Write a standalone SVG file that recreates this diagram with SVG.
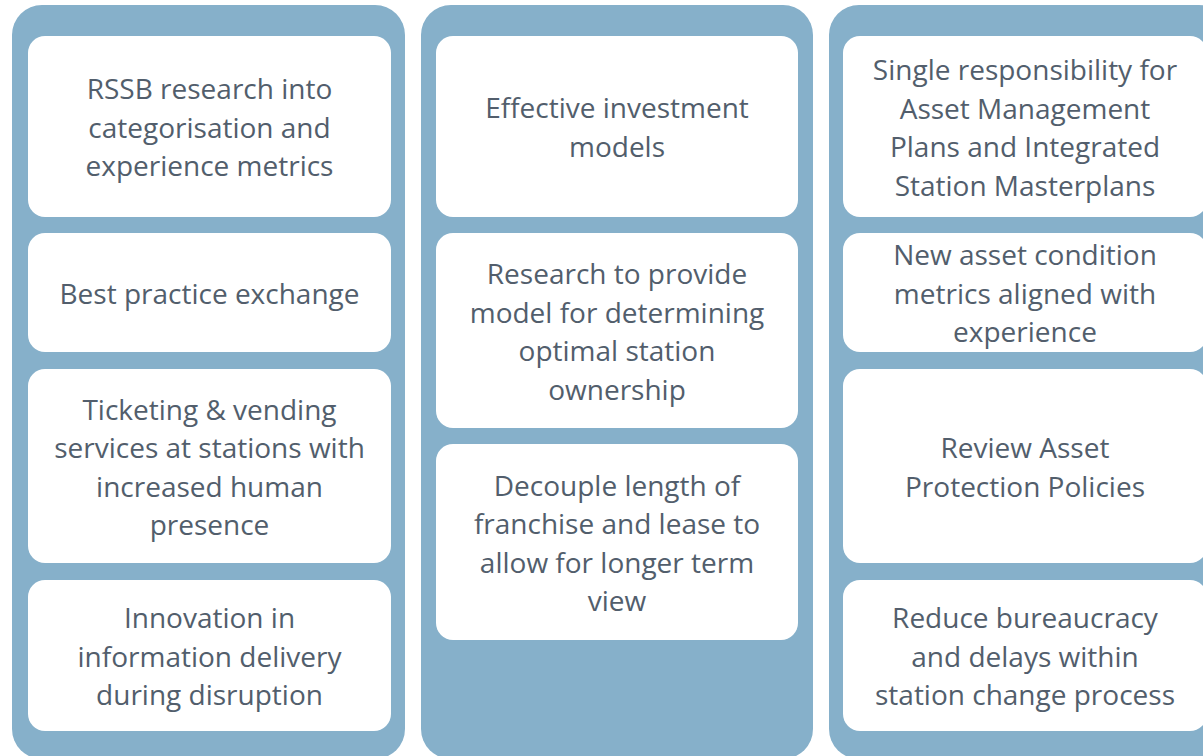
<svg xmlns="http://www.w3.org/2000/svg" width="1203" height="756" viewBox="0 0 1203 756">
<style>
.col{fill:#86B0CA}
.box{fill:#FFFFFF}
.t{font-family:"Open Sans","Liberation Sans",sans-serif;font-size:28px;fill:#525E6C;text-anchor:middle}
</style>
<rect width="1203" height="756" fill="#FFFFFF"/>
<g id="column-1">
<rect class="col" x="12" y="5" width="393" height="754" rx="30"/>
</g>
<g id="column-2">
<rect class="col" x="421" y="5" width="392" height="754" rx="30"/>
</g>
<g id="column-3">
<rect class="col" x="829" y="5" width="400" height="754" rx="30"/>
</g>
<g id="connectors"></g>
<g id="n1">
<rect class="box" x="28" y="36" width="363" height="181" rx="17"/>
<text class="t"><tspan x="209.5" y="99">RSSB research into</tspan><tspan x="209.5" y="137.5">categorisation and</tspan><tspan x="209.5" y="176">experience metrics</tspan></text>
</g>
<g id="n2">
<rect class="box" x="28" y="233" width="363" height="119" rx="17"/>
<text class="t"><tspan x="209.5" y="303.5">Best practice exchange</tspan></text>
</g>
<g id="n3">
<rect class="box" x="28" y="369" width="363" height="194" rx="17"/>
<text class="t"><tspan x="209.5" y="419.5">Ticketing &amp; vending</tspan><tspan x="209.5" y="458">services at stations with</tspan><tspan x="209.5" y="496.5">increased human</tspan><tspan x="209.5" y="535">presence</tspan></text>
</g>
<g id="n4">
<rect class="box" x="28" y="580" width="363" height="151" rx="17"/>
<text class="t"><tspan x="209.5" y="628">Innovation in</tspan><tspan x="209.5" y="666.5">information delivery</tspan><tspan x="209.5" y="705">during disruption</tspan></text>
</g>
<g id="n5">
<rect class="box" x="436" y="36" width="362" height="181" rx="17"/>
<text class="t"><tspan x="617" y="118">Effective investment</tspan><tspan x="617" y="156.5">models</tspan></text>
</g>
<g id="n6">
<rect class="box" x="436" y="233" width="362" height="195" rx="17"/>
<text class="t"><tspan x="617" y="284">Research to provide</tspan><tspan x="617" y="322.5">model for determining</tspan><tspan x="617" y="361">optimal station</tspan><tspan x="617" y="399.5">ownership</tspan></text>
</g>
<g id="n7">
<rect class="box" x="436" y="444" width="362" height="196" rx="17"/>
<text class="t"><tspan x="617" y="495.5">Decouple length of</tspan><tspan x="617" y="534">franchise and lease to</tspan><tspan x="617" y="572.5">allow for longer term</tspan><tspan x="617" y="611">view</tspan></text>
</g>
<g id="n8">
<rect class="box" x="843" y="36" width="364" height="181" rx="17"/>
<text class="t"><tspan x="1025" y="80">Single responsibility for</tspan><tspan x="1025" y="118.5">Asset Management</tspan><tspan x="1025" y="157">Plans and Integrated</tspan><tspan x="1025" y="195.5">Station Masterplans</tspan></text>
</g>
<g id="n9">
<rect class="box" x="843" y="233" width="364" height="119" rx="17"/>
<text class="t"><tspan x="1025" y="265">New asset condition</tspan><tspan x="1025" y="303.5">metrics aligned with</tspan><tspan x="1025" y="342">experience</tspan></text>
</g>
<g id="n10">
<rect class="box" x="843" y="369" width="364" height="194" rx="17"/>
<text class="t"><tspan x="1025" y="458">Review Asset</tspan><tspan x="1025" y="496.5">Protection Policies</tspan></text>
</g>
<g id="n11">
<rect class="box" x="843" y="580" width="364" height="151" rx="17"/>
<text class="t"><tspan x="1025" y="628">Reduce bureaucracy</tspan><tspan x="1025" y="666.5">and delays within</tspan><tspan x="1025" y="705">station change process</tspan></text>
</g>
</svg>
